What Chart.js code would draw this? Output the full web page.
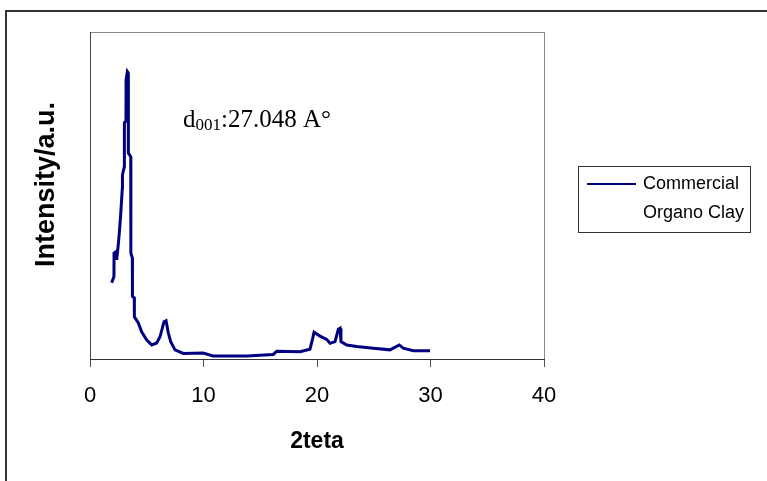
<!DOCTYPE html>
<html><head><meta charset="utf-8">
<script src="https://cdn.jsdelivr.net/npm/chart.js@4/dist/chart.umd.min.js"></script>
<style>html,body{margin:0;padding:0;background:#fff}#wrap{width:767px;height:481px}</style>
</head><body><div id="wrap"><canvas id="c" width="767" height="481"></canvas></div>
<script>
// 2theta values and intensities (a.u.)
const twoTheta = [1.91,2.11,2.12,2.29,2.35,2.49,2.58,2.70,2.85,2.86,3.02,3.03,3.17,3.18,3.29,3.37,3.38,3.59,3.60,3.73,3.74,3.90,3.91,4.26,4.55,5.00,5.44,5.88,6.17,6.52,6.70,6.90,7.11,7.49,8.22,9.96,10.84,13.81,16.15,16.45,18.50,19.38,19.62,19.74,20.26,20.85,21.15,21.59,21.88,22.03,22.11,22.62,23.50,24.96,26.43,27.25,27.60,28.48,29.96];
const intensity = [23.3,25.2,32.4,32.8,30.3,34.9,38.5,44.0,52.3,56.3,58.8,72.2,72.8,85.3,87.9,87.5,63.0,61.9,32.4,30.9,19.1,18.7,12.9,11.0,8.3,5.8,4.3,4.9,6.8,11.4,11.7,8.0,5.3,2.8,1.7,1.8,0.9,0.9,1.4,2.4,2.2,3.0,6.3,8.2,7.0,6.0,4.8,5.3,9.1,9.4,5.3,4.3,3.8,3.3,2.8,4.3,3.3,2.5,2.5];
const xTicks = [0,10,20,30,40];
const seriesLabel = ['Commercial','Organo Clay'];
const xTitle = '2teta';
const yTitle = 'Intensity/a.u.';
const annotation = {x: 8.2, y: 71, main: 'd', sub: '001', rest: ':27.048 A\u00B0'};

const points = twoTheta.map((x,i)=>({x, y: intensity[i]}));
const navy = '#000080';

const decor = {
  id: 'decor',
  beforeDraw(chart){
    const c = chart.ctx; const a = chart.chartArea;
    c.save();
    c.fillStyle = '#fff'; c.fillRect(0,0,chart.width,chart.height);
    c.strokeStyle = '#333'; c.lineWidth = 2;
    c.beginPath(); c.moveTo(6, 490); c.lineTo(6, 11); c.lineTo(780, 11); c.stroke();
    c.strokeStyle = '#888'; c.lineWidth = 1;
    c.strokeRect(a.left+0.5, a.top+0.5, a.right-a.left, a.bottom-a.top);
    c.strokeStyle = '#444';
    c.beginPath(); c.moveTo(a.left+0.5, a.top); c.lineTo(a.left+0.5, a.bottom); c.stroke();
    c.restore();
  },
  afterDraw(chart){
    const c = chart.ctx; const a = chart.chartArea;
    const xs = chart.scales.x, ys = chart.scales.y;
    c.save();
    c.fillStyle = '#000';
    c.font = 'bold 27px "Liberation Sans", Arial, sans-serif';
    c.textAlign = 'center'; c.textBaseline = 'middle';
    c.translate(47, (a.top + a.bottom)/2 - 11);
    c.rotate(-Math.PI/2);
    c.fillText(yTitle, 0, 0);
    c.restore();
    c.save();
    c.fillStyle = '#000'; c.textBaseline = 'alphabetic'; c.textAlign = 'left';
    let px = xs.getPixelForValue(annotation.x), py = ys.getPixelForValue(annotation.y);
    c.font = '25px "Liberation Serif", "Times New Roman", serif';
    c.fillText(annotation.main, px, py); px += c.measureText(annotation.main).width;
    c.font = '17px "Liberation Serif", "Times New Roman", serif';
    c.fillText(annotation.sub, px, py + 3); px += c.measureText(annotation.sub).width;
    c.font = '25px "Liberation Serif", "Times New Roman", serif';
    c.fillText(annotation.rest, px, py);
    c.restore();
    c.save();
    const lx = a.right + 34, ly = 166, lw = 172, lh = 66;
    c.strokeStyle = '#333'; c.lineWidth = 1;
    c.strokeRect(lx+0.5, ly+0.5, lw, lh);
    const ds = chart.data.datasets[0];
    c.strokeStyle = ds.borderColor; c.lineWidth = 2;
    c.beginPath(); c.moveTo(lx+9, ly+18); c.lineTo(lx+58, ly+18); c.stroke();
    c.fillStyle = '#000'; c.font = '18px "Liberation Sans", Arial, sans-serif';
    c.textBaseline = 'middle'; c.textAlign = 'left';
    seriesLabel.forEach((t,i)=> c.fillText(t, lx+65, ly+18+i*29));
    c.restore();
  }
};

new Chart(document.getElementById('c'), {
  type: 'line',
  data: { datasets: [{ label: seriesLabel.join(' '), data: points, borderColor: navy, backgroundColor: navy, borderWidth: 3, pointRadius: 0, tension: 0, fill: false }] },
  options: {
    responsive: false, animation: false, devicePixelRatio: 1,
    layout: { padding: { left: 0, top: 32, right: 223, bottom: 0 } },
    plugins: { legend: { display: false }, tooltip: { enabled: false } },
    scales: {
      x: {
        type: 'linear', min: 0, max: 40,
        afterBuildTicks(s){ s.ticks = xTicks.map(v=>({value:v})); },
        afterFit(s){ s.height = 122; },
        grid: { drawOnChartArea: false, drawTicks: true, tickLength: 8, color: '#555' },
        border: { display: true, color: '#333', width: 1 },
        ticks: { color: '#000', padding: 16, font: { family: '"Liberation Sans", Arial, sans-serif', size: 22 }, maxRotation: 0 },
        title: { display: true, text: xTitle, color: '#000', padding: { top: 0, bottom: 26 }, font: { family: '"Liberation Sans", Arial, sans-serif', size: 23, weight: 'bold' } }
      },
      y: {
        type: 'linear', min: 0, max: 100,
        afterFit(s){ s.width = 90; },
        grid: { display: false },
        border: { display: false },
        ticks: { display: false }
      }
    }
  },
  plugins: [decor]
});
</script></body></html>
